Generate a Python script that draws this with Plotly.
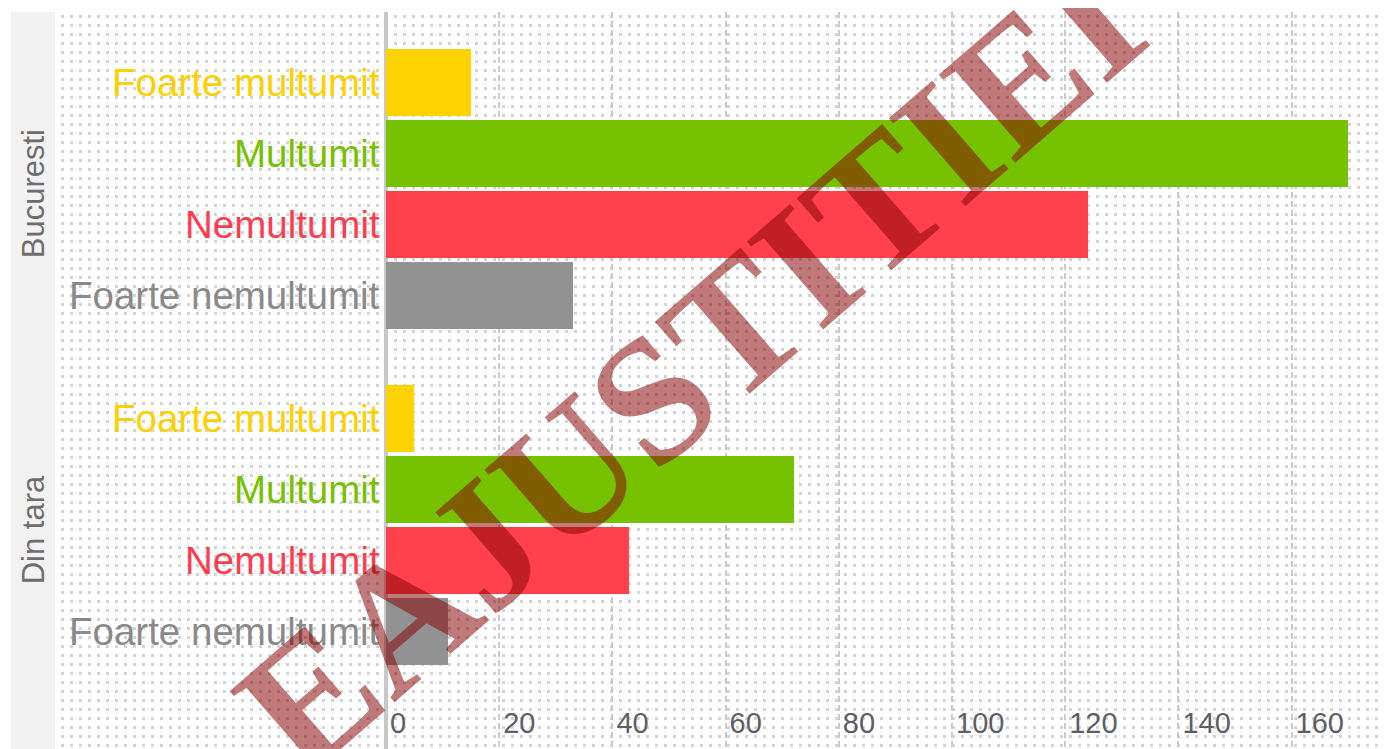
import base64
import plotly.graph_objects as go

# ---- data ----
groups = ["Bucuresti", "Din tara"]
categories = ["Foarte multumit", "Multumit", "Nemultumit", "Foarte nemultumit"]
bucuresti = [15, 170, 124, 33]
din_tara = [5, 72, 43, 11]
x_ticks = [0, 20, 40, 60, 80, 100, 120, 140, 160]
watermark = "EAJUSTITIEI"

bar_colors = ["#FFD200", "#77C200", "#FF414D", "#929292"]
label_colors = ["#FFD000", "#76C100", "#FF3B4E", "#8A8A8A"]

OFF = 8  # default HTML body margin
W, H = 1387 - OFF, 749 - OFF
ML, MR, MT, MB = 58 - OFF, 0, 12 - OFF, 0
PW, PH = W - ML - MR, H - MT - MB
ZERO_PX = 386 - OFF
PX_PER_UNIT = 5.66
SLOT = 70.9

x_min = -(ZERO_PX - ML) / PX_PER_UNIT
x_max = (W - MR - ZERO_PX) / PX_PER_UNIT

SANS = "Liberation Sans, Arial, sans-serif"

group_offsets = [1.0, 5.74]
fig = go.Figure()
series = [bucuresti, din_tara]
annotations = []
for gi, (gname, vals) in enumerate(zip(groups, series)):
    ys = [group_offsets[gi] + i for i in range(len(categories))]
    fig.add_trace(go.Bar(
        x=vals, y=ys, orientation="h", width=0.945,
        marker=dict(color=bar_colors, line=dict(width=0)),
        showlegend=False, hoverinfo="x",
    ))
    for cat, y, col in zip(categories, ys, label_colors):
        annotations.append(dict(
            x=0, y=y, xref="x", yref="y", text=cat, showarrow=False,
            xanchor="right", yanchor="middle", xshift=-4,
            font=dict(family=SANS, size=38.5, color=col)))
    ymid = group_offsets[gi] + (len(categories) - 1) / 2
    annotations.append(dict(
        x=(33 - OFF - ML) / PW, y=ymid, xref="paper", yref="y", text=gname,
        showarrow=False, textangle=-90, xanchor="center", yanchor="middle",
        yshift=-5,
        font=dict(family=SANS, size=31, color="#6E6E6E")))

# watermark
annotations.append(dict(
    x=(690 - OFF - ML) / PW, y=1 - (366 - 12) / PH, xref="paper", yref="paper",
    text="<b>" + watermark + "</b>", showarrow=False, textangle=-41,
    xanchor="center", yanchor="middle",
    font=dict(family="Liberation Serif, serif", size=178, color="rgba(135,0,0,0.52)")))

# dotted background as SVG pattern
svg = (f'<svg xmlns="http://www.w3.org/2000/svg" width="{PW}" height="{PH}">'
       '<defs><pattern id="p" width="9" height="9" patternUnits="userSpaceOnUse">'
       '<rect x="3" y="3" width="3" height="3" fill="#d4d4d4"/></pattern></defs>'
       '<rect width="100%" height="100%" fill="url(#p)"/></svg>')
src = "data:image/svg+xml;base64," + base64.b64encode(svg.encode()).decode()

fig.update_layout(
    width=W, height=H,
    margin=dict(l=ML, r=MR, t=MT, b=MB, pad=0),
    paper_bgcolor="white", plot_bgcolor="rgba(0,0,0,0)",
    bargap=0,
    images=[dict(source=src, xref="paper", yref="paper", x=0, y=1,
                 sizex=1, sizey=1, sizing="stretch", xanchor="left", yanchor="top",
                 layer="below")],
    shapes=[dict(type="rect", xref="paper", yref="paper",
                 x0=(11 - OFF - ML) / PW, x1=(55 - OFF - ML) / PW, y0=-0.01, y1=1,
                 fillcolor="#F2F2F2", line=dict(width=0), layer="below")],
    annotations=annotations,
    xaxis=dict(range=[x_min, x_max], tickvals=x_ticks, ticktext=[str(t) for t in x_ticks],
               ticklabelposition="inside right", ticks="", showline=False,
               showgrid=True, gridcolor="#CACACA", gridwidth=2, griddash="6px,3px",
               zeroline=True, zerolinecolor="#C8C8C8", zerolinewidth=4,
               tickfont=dict(family=SANS, size=29, color="#5E5E66"),
               ticklabelstandoff=4, ticklabelshift=4),
    yaxis=dict(range=[PH / SLOT, 0], showticklabels=False, showgrid=False,
               zeroline=False, ticks="", showline=False),
)

fig.write_html("out.html")
